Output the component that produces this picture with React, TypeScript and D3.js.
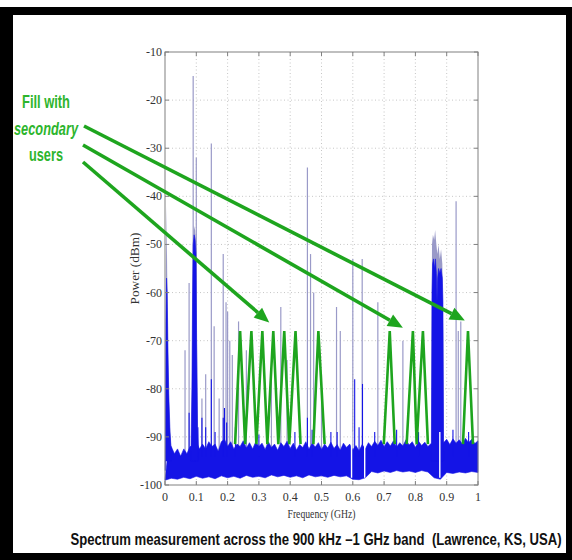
import React from 'react';
import * as d3 from 'd3';

const W = 572;
const H = 560;

const xTicks = [0, 0.1, 0.2, 0.3, 0.4, 0.5, 0.6, 0.7, 0.8, 0.9, 1];
const xTickLabels = ['0', '0.1', '0.2', '0.3', '0.4', '0.5', '0.6', '0.7', '0.8', '0.9', '1'];
const yTicks = [-10, -20, -30, -40, -50, -60, -70, -80, -90, -100];
const yTickLabels = ['-10', '-20', '-30', '-40', '-50', '-60', '-70', '-80', '-90', '-100'];

// noise floor envelope (GHz step 0.01 for top, 0.02 for bottom), dBm
const noiseTopStep = 0.01;
const noiseTop = [
  -99, -93, -92, -93.5, -92.5, -94, -92.5, -93.5, -92, -92,
  -91, -92.5, -91.5, -92.5, -91, -92, -91.5, -93, -91, -90.5,
  -92, -91, -92.5, -91.5, -92, -90.8, -92.3, -91.2, -92.5, -91,
  -92, -91.3, -92.6, -91, -92.2, -91.5, -92.8, -91.2, -92, -90.9,
  -92.4, -91.3, -92.7, -91.6, -92.2, -91, -92.5, -91.4, -92.1, -91.2,
  -92.6, -91.5, -92.3, -91.1, -92.4, -91.6, -92.8, -91.3, -92.2, -91.5,
  -92.7, -91.8, -92.9, -91.6, -92.5, -91.2, -92, -90.9, -91.8, -90.7,
  -92, -91, -91.9, -90.8, -92.1, -91.2, -91.9, -90.6, -91.7, -91,
  -92.2, -90.9, -91.8, -91.1, -92, -91.4, -92, -91.5, -92, -91.2,
  -90.5, -91.6, -90.4, -91.3, -90.6, -91.5, -90.3, -91.2, -90.5, -91.4,
  -90.8,
];
const noiseBottomStep = 0.02;
const noiseBottom = [
  -99, -98.6, -98.8, -98.4, -98.7, -98.2, -98.6, -98.3, -98.7, -98.1,
  -98.5, -98.2, -98.6, -98.0, -98.4, -98.2, -98.5, -97.9, -98.3, -98.0,
  -98.4, -98.1, -98.5, -97.9, -98.3, -98.1, -98.4, -98.0, -98.3, -98.1,
  -98.8, -98.9, -98.5, -97.2, -97.5, -97.1, -97.4, -97.0, -97.3, -97.1,
  -97.4, -97.0, -97.3, -98.5, -98.8, -97.4, -97.6, -97.3, -97.5, -97.2,
  -97.4,
];

// current trace (dark blue) wide features
const leftEdgeBurst: [number, number][] = [
  [0.001, -97], [0.003, -66], [0.005, -57], [0.007, -60], [0.009, -70],
  [0.012, -81], [0.016, -89], [0.02, -93],
];
const fmBlock: [number, number][] = [
  [0.083, -93], [0.086, -80], [0.088, -62], [0.09, -50], [0.093, -48],
  [0.096, -49], [0.099, -52], [0.101, -70], [0.104, -88], [0.107, -93],
];
const cellBlock: [number, number][] = [
  [0.851, -93], [0.853, -60], [0.855, -54], [0.858, -53], [0.861, -55],
  [0.864, -53], [0.867, -56], [0.869, -62], [0.871, -57], [0.874, -55],
  [0.878, -56], [0.882, -55], [0.886, -57], [0.888, -62], [0.89, -93],
];
// max-hold trace (lavender) wide features
const leftEdgeBurstMax: [number, number][] = [
  [0.001, -95], [0.003, -55], [0.005, -42], [0.007, -56], [0.01, -75],
  [0.014, -86], [0.02, -92],
];
const fmBlockMax: [number, number][] = [
  [0.084, -93], [0.087, -70], [0.089, -50], [0.092, -46], [0.096, -47],
  [0.1, -50], [0.102, -68], [0.105, -90],
];
const cellBlockMax: [number, number][] = [
  [0.851, -92], [0.853, -50], [0.856, -48], [0.86, -49], [0.863, -47],
  [0.867, -50], [0.87, -52], [0.874, -50], [0.878, -53], [0.882, -51],
  [0.886, -54], [0.889, -70], [0.891, -92],
];

// narrow carriers: [GHz, peak dBm]
const maxHoldSpikes: [number, number][] = [
  [0.064, -72], [0.077, -58], [0.09, -15], [0.1, -32], [0.118, -82],
  [0.13, -77], [0.148, -29], [0.157, -67], [0.173, -82], [0.186, -52],
  [0.195, -62], [0.2, -64], [0.207, -70], [0.215, -73], [0.235, -66],
  [0.26, -72], [0.34, -78], [0.37, -63], [0.39, -74], [0.455, -34],
  [0.465, -52], [0.475, -60], [0.5, -77], [0.548, -63], [0.56, -68],
  [0.6, -53], [0.63, -53], [0.68, -62], [0.76, -70], [0.93, -41],
  [0.937, -68], [0.945, -66],
];
const blueSpikes: [number, number][] = [
  [0.077, -85], [0.105, -88], [0.118, -86], [0.13, -88], [0.148, -78],
  [0.16, -89], [0.186, -86], [0.19, -84], [0.197, -87], [0.225, -88],
  [0.3, -89.5], [0.415, -89], [0.455, -86], [0.47, -88.5], [0.53, -89],
  [0.55, -89], [0.606, -78], [0.62, -88], [0.631, -79], [0.67, -89],
  [0.74, -88.5], [0.81, -89], [0.92, -88.5], [0.97, -89],
];
// white gaps in the noise floor
const notches = [0.596, 0.638, 0.878];

// secondary-user fill (green)
const secondaryZigzags: [number, number][][] = [
  [[0.224, -91.5], [0.24, -68], [0.256, -91.5], [0.276, -68], [0.292, -91.5],
   [0.311, -68], [0.327, -91.5], [0.346, -68], [0.362, -91.5], [0.381, -68],
   [0.397, -91.5], [0.417, -68], [0.433, -91.5]],
  [[0.474, -91.5], [0.49, -68], [0.51, -91.5]],
  [[0.699, -91.5], [0.718, -68], [0.734, -91.5]],
  [[0.772, -91.5], [0.792, -68], [0.804, -91.5], [0.824, -68], [0.84, -91.5]],
  [[0.952, -91.5], [0.968, -68], [0.984, -91.5]],
];
const arrowTips: [number, number][] = [[0.958, -65.8], [0.76, -67.3], [0.333, -66.2]];

const annotationLines = ['Fill with', 'secondary', 'users'];
const xLabel = 'Frequency (GHz)';
const yLabel = 'Power (dBm)';
const caption = 'Spectrum measurement across the 900 kHz \u20131 GHz band  (Lawrence, KS, USA)';

const GREEN_LINE = '#1ea51e';
const GREEN_TEXT = '#2db52d';
const BLUE = '#1414e6';
const LAV = '#9a9ac8';
const NARROW = "'Liberation Sans Narrow', 'Arial Narrow', 'Liberation Sans', Arial, sans-serif";
const SERIF = "'Liberation Serif', 'Times New Roman', serif";

export default function App() {
  const x = d3.scaleLinear().domain([0, 1]).range([165, 478]);
  const y = d3.scaleLinear().domain([-100, -10]).range([485, 52]);
  const line = d3.line<[number, number]>().x(d => x(d[0])).y(d => y(d[1]));
  const area = d3.area<[number, number]>().x(d => x(d[0])).y0(y(-95)).y1(d => y(d[1]));

  const topPts: [number, number][] = noiseTop.map((v, i) => [i * noiseTopStep, v]);
  const botPts: [number, number][] = noiseBottom.map((v, i) => [i * noiseBottomStep, v]);
  const noisePath = line([...topPts, ...botPts.reverse()]) + 'Z';

  const [x0, x1] = x.range();
  const [yb, yt] = y.range();

  // annotation text anchor
  const txCenter = 46;
  const txBase = [108, 135, 161];
  const txWidth = [48, 64, 34];
  const tails: [number, number][] = [[84, 126], [83, 145], [83, 162]];

  const arrows = arrowTips.map((tip, i) => {
    const [tx, ty] = [x(tip[0]), y(tip[1])];
    const [sx, sy] = tails[i];
    const dx = tx - sx, dy = ty - sy;
    const len = Math.hypot(dx, dy);
    const ux = dx / len, uy = dy / len;
    const L = 15, hw = 6.5;
    const bx = tx - ux * L, by = ty - uy * L;
    const head = `${tx},${ty} ${bx - uy * hw},${by + ux * hw} ${bx + uy * hw},${by - ux * hw}`;
    return { sx, sy, bx, by, head };
  });

  return (
    <svg width={W} height={H} style={{ position: 'absolute', left: 0, top: 0, background: '#fff' }}>
      {/* frame */}
      <rect x={0} y={7} width={W} height={8} fill="#000" />
      <rect x={0} y={7} width={13} height={H - 7} fill="#000" />
      <rect x={566} y={7} width={6} height={H - 7} fill="#000" />
      <rect x={0} y={553} width={W} height={7} fill="#000" />

      {/* grid */}
      <g stroke="#b8b8b8" strokeWidth={0.8} strokeDasharray="1,2.5">
        {xTicks.slice(1, -1).map(t => (
          <line key={'gx' + t} x1={x(t)} x2={x(t)} y1={yt} y2={yb} />
        ))}
        {yTicks.slice(1, -1).map(t => (
          <line key={'gy' + t} x1={x0} x2={x1} y1={y(t)} y2={y(t)} />
        ))}
      </g>

      {/* max hold (lavender) */}
      <g fill={LAV} stroke="none">
        <path d={area(leftEdgeBurstMax) || ''} />
        <path d={area(fmBlockMax) || ''} />
        <path d={area(cellBlockMax) || ''} />
      </g>
      <g stroke={LAV} strokeWidth={1.2}>
        {maxHoldSpikes.map(([f, p], i) => (
          <line key={'ms' + i} x1={x(f)} x2={x(f)} y1={y(-95)} y2={y(p)} />
        ))}
      </g>

      {/* current trace (blue) */}
      <path d={noisePath} fill={BLUE} stroke={BLUE} strokeWidth={0.6} />
      <g fill={BLUE} stroke={BLUE} strokeWidth={0.6}>
        <path d={area(leftEdgeBurst) || ''} />
        <path d={area(fmBlock) || ''} />
        <path d={area(cellBlock) || ''} />
      </g>
      <g stroke={BLUE} strokeWidth={1.1}>
        {blueSpikes.map(([f, p], i) => (
          <line key={'bs' + i} x1={x(f)} x2={x(f)} y1={y(-94)} y2={y(p)} />
        ))}
      </g>
      <g stroke="#ffffff" strokeWidth={1.4}>
        {notches.map(f => (
          <line key={'n' + f} x1={x(f)} x2={x(f)} y1={y(-89)} y2={y(-98.5)} />
        ))}
      </g>

      {/* axes box & ticks */}
      <rect x={x0} y={yt} width={x1 - x0} height={yb - yt} fill="none" stroke="#808080" strokeWidth={1} />
      <g stroke="#808080" strokeWidth={1}>
        {xTicks.map(t => (
          <g key={'tx' + t}>
            <line x1={x(t)} x2={x(t)} y1={yb} y2={yb - 4} />
            <line x1={x(t)} x2={x(t)} y1={yt} y2={yt + 4} />
          </g>
        ))}
        {yTicks.map(t => (
          <g key={'ty' + t}>
            <line x1={x0} x2={x0 + 4} y1={y(t)} y2={y(t)} />
            <line x1={x1} x2={x1 - 4} y1={y(t)} y2={y(t)} />
          </g>
        ))}
      </g>
      <g fontFamily={SERIF} fontSize={12} fill="#333">
        {xTicks.map((t, i) => (
          <text key={'lx' + t} x={x(t)} y={yb + 16} textAnchor="middle">{xTickLabels[i]}</text>
        ))}
        {yTicks.map((t, i) => (
          <text key={'ly' + t} x={x0 - 3} y={y(t) + 4} textAnchor="end">{yTickLabels[i]}</text>
        ))}
      </g>
      <text x={(x0 + x1) / 2} y={518} textAnchor="middle" fontFamily={SERIF} fontSize={11.5} fill="#333"
        textLength={68} lengthAdjust="spacingAndGlyphs">{xLabel}</text>
      <text transform={`translate(139,${(yt + yb) / 2}) rotate(-90)`} textAnchor="middle" fontFamily={SERIF}
        fontSize={11.5} fill="#333" textLength={72} lengthAdjust="spacingAndGlyphs">{yLabel}</text>

      {/* secondary users */}
      <g fill="none" stroke={GREEN_LINE} strokeWidth={2.6} strokeLinejoin="miter">
        {secondaryZigzags.map((z, i) => (
          <path key={'z' + i} d={line(z) || ''} />
        ))}
      </g>
      <g>
        {arrows.map((a, i) => (
          <g key={'a' + i}>
            <line x1={a.sx} y1={a.sy} x2={a.bx} y2={a.by} stroke={GREEN_LINE} strokeWidth={3.6} />
            <polygon points={a.head} fill={GREEN_LINE} />
          </g>
        ))}
      </g>
      <g fontFamily={NARROW} fontWeight="bold" fontSize={18} fill={GREEN_TEXT} textAnchor="middle">
        {annotationLines.map((s, i) => (
          <text key={s} x={txCenter} y={txBase[i]} fontStyle={i === 1 ? 'italic' : 'normal'}
            textLength={txWidth[i]} lengthAdjust="spacingAndGlyphs">{s}</text>
        ))}
      </g>

      {/* caption (horizontally condensed) */}
      <g transform="translate(316,545) scale(0.82,1)">
        <text x={0} y={0} textAnchor="middle" fontFamily={NARROW} fontWeight="bold" fontSize={16} fill="#111"
          style={{ whiteSpace: 'pre' }}>{caption}</text>
      </g>
    </svg>
  );
}
